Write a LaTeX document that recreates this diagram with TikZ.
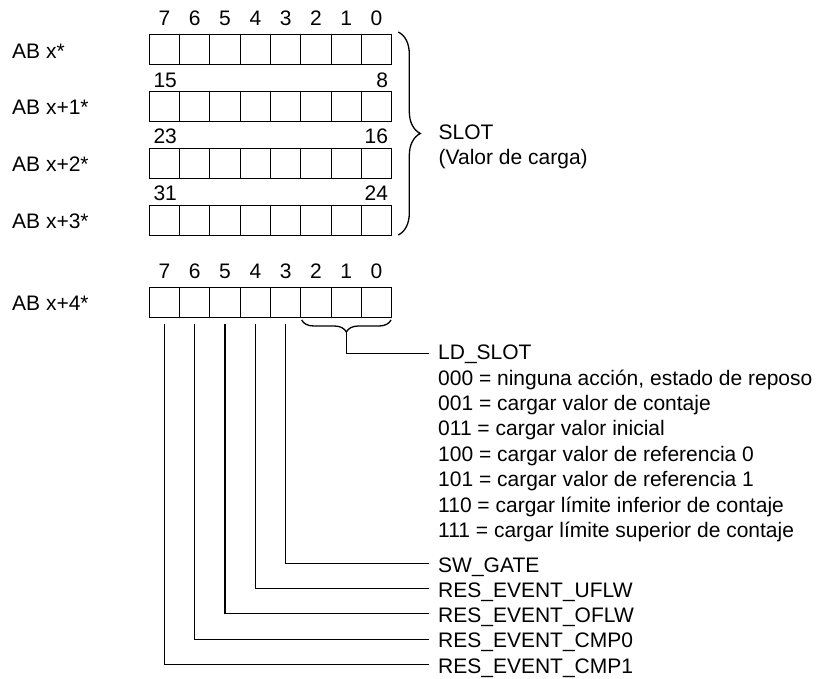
\documentclass[tikz,border=0pt]{standalone}
\usepackage{fontspec}
\setmainfont{Liberation Sans}
\usetikzlibrary{decorations.pathreplacing}
\begin{document}
\begin{tikzpicture}[x=1pt,y=-1pt,
  cell/.style={draw,line width=0.9pt,minimum width=30.3pt,minimum height=30pt,inner sep=0pt,outer sep=0pt},
  txt/.style={inner sep=0pt,anchor=base west,font=\fontsize{21}{24}\selectfont},
  txtr/.style={txt,anchor=base east},
  num/.style={txt,anchor=base},
  conn/.style={line width=1.3pt},
  bigbrace/.style={decorate,decoration={brace,amplitude=22pt},line width=1.3pt},
  smallbrace/.style={decorate,decoration={brace,amplitude=12pt},line width=1.3pt}]
\useasboundingbox (0,0) rectangle (821,679);
% cells
\foreach \r/\yt in {0/34,1/91.7,2/148.3,3/205,4/287.5} {
  \foreach \b in {0,...,7} {
    \node[cell] (r\r c\b) at ({149.3+30.3*(7.5-\b)},{\yt+15}) {};
  }
}
% bit numbers
\foreach \b in {0,...,7} {
  \node[num] (t\b) at ({149.3+30.3*(7.5-\b)},25.7) {\b};
  \node[num] (u\b) at ({149.3+30.3*(7.5-\b)},278.3) {\b};
}
\node[txt] (n15) at (153.3,87.3) {15};
\node[txtr] (n8) at (388.3,87.3) {8};
\node[txt] (n23) at (153.3,144) {23};
\node[txtr] (n16) at (388.3,144) {16};
\node[txt] (n31) at (153.3,200.5) {31};
\node[txtr] (n24) at (388.3,200.5) {24};
% row labels
\node[txt] (l0) at (12,58.5) {AB x*};
\node[txt] (l1) at (12,115) {AB x+1*};
\node[txt] (l2) at (12,171.7) {AB x+2*};
\node[txt] (l3) at (12,228.3) {AB x+3*};
\node[txt] (l4) at (12,310) {AB x+4*};
% slot brace
\draw[bigbrace] (398.3,32) -- (398.3,235);
\node[txt] (slot) at (438.5,140) {SLOT};
\node[txt] (valor) at (438.5,164.5) {(Valor de carga)};
% LD_SLOT brace and text
\draw[smallbrace] (391,320) -- (301.7,320);
\coordinate (ubtip) at (346.4,332);
\node[txt] (ld) at (438,359.3) {LD\_SLOT};
\node[txt] (v0) at (438,385) {000 = ninguna acción, estado de reposo};
\node[txt] (v1) at (438,410.3) {001 = cargar valor de contaje};
\node[txt] (v2) at (438,435.8) {011 = cargar valor inicial};
\node[txt] (v3) at (438,461.2) {100 = cargar valor de referencia 0};
\node[txt] (v4) at (438,486.7) {101 = cargar valor de referencia 1};
\node[txt] (v5) at (438,512.1) {110 = cargar límite inferior de contaje};
\node[txt] (v6) at (438,537.6) {111 = cargar límite superior de contaje};
\draw[conn] (ubtip) |- ([xshift=-9pt,yshift=6pt]ld.base west);
% bit labels
\node[txt] (sw) at (438,572) {SW\_GATE};
\node[txt] (uf) at (438,597.3) {RES\_EVENT\_UFLW};
\node[txt] (of) at (438,622.3) {RES\_EVENT\_OFLW};
\node[txt] (c0) at (438,647.7) {RES\_EVENT\_CMP0};
\node[txt] (c1) at (438,673) {RES\_EVENT\_CMP1};
\draw[conn] ([yshift=-6.5pt]r4c3.south) |- ([xshift=-9pt,yshift=8.5pt]sw.base west);
\draw[conn] ([yshift=-6.5pt]r4c4.south) |- ([xshift=-9pt,yshift=8.5pt]uf.base west);
\draw[conn] ([yshift=-6.5pt]r4c5.south) |- ([xshift=-9pt,yshift=8.5pt]of.base west);
\draw[conn] ([yshift=-6.5pt]r4c6.south) |- ([xshift=-9pt,yshift=8.5pt]c0.base west);
\draw[conn] ([yshift=-6.5pt]r4c7.south) |- ([xshift=-9pt,yshift=8.5pt]c1.base west);
\end{tikzpicture}
\end{document}
